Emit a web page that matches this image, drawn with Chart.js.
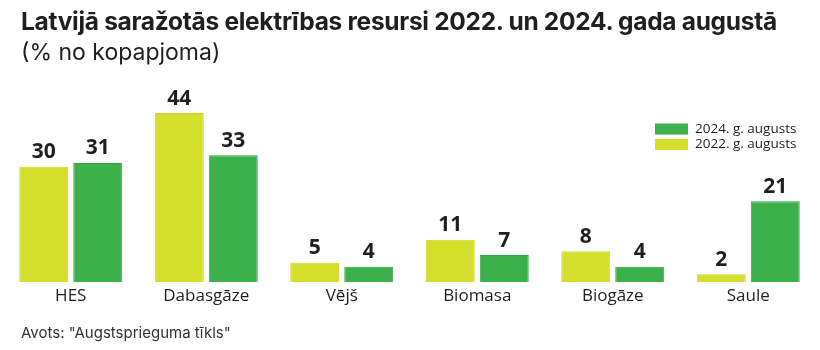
<!DOCTYPE html>
<html><head><meta charset="utf-8">
<script src="https://cdn.jsdelivr.net/npm/chart.js@4/dist/chart.umd.min.js"></script>
<style>
html,body{margin:0;padding:0;background:#fff;}
#wrap{position:relative;width:820px;height:350px;overflow:hidden;}
canvas{position:absolute;left:0;top:0;}
.t{position:absolute;color:#1f1f1f;white-space:nowrap;}
#title{left:21px;top:6px;font:700 24.5px Inter, sans-serif;letter-spacing:-0.3px;}
#sub{left:21px;top:38px;font:400 23px Inter, sans-serif;}
#src{left:21px;top:323px;font:400 15px Inter, sans-serif;color:#333;}
</style></head>
<body><div id="wrap">
<canvas id="c" width="820" height="350"></canvas>
<div class="t" id="title">Latvijā saražotās elektrības resursi 2022. un 2024. gada augustā</div>
<div class="t" id="sub">(% no kopapjoma)</div>
<div class="t" id="src">Avots: "Augstsprieguma tīkls"</div>
</div>
<script>
const categories = ["HES", "Dabasgāze", "Vējš", "Biomasa", "Biogāze", "Saule"];
const values2022 = [30, 44, 5, 11, 8, 2];
const values2024 = [31, 33, 4, 7, 4, 21];
const seriesNames = ["2022. g. augusts", "2024. g. augusts"];
const YELLOW = "#d5df2b", GREEN = "#3cb14b";

const labelPlugin = {
  id: "barLabels",
  afterDatasetsDraw(chart) {
    const ctx = chart.ctx;
    ctx.save();
    ctx.font = "700 21px 'Open Sans', sans-serif";
    ctx.fillStyle = "#1f1f1f";
    ctx.textAlign = "center";
    ctx.textBaseline = "bottom";
    chart.data.datasets.forEach((ds, i) => {
      chart.getDatasetMeta(i).data.forEach((bar, j) => {
        ctx.fillText(String(ds.data[j]), bar.x, bar.y - 4);
      });
    });
    ctx.restore();
  }
};

const legendPlugin = {
  id: "customLegend",
  afterDraw(chart) {
    const ctx = chart.ctx;
    ctx.save();
    const items = [[seriesNames[1], GREEN], [seriesNames[0], YELLOW]];
    ctx.font = "400 13.5px 'Open Sans', sans-serif";
    ctx.textBaseline = "middle";
    items.forEach((it, k) => {
      const y = 129 + k * 15.5;
      ctx.fillStyle = it[1];
      ctx.fillRect(655, y - 5.5, 33, 11);
      ctx.fillStyle = "#1f1f1f";
      ctx.fillText(it[0], 695, y);
    });
    ctx.restore();
  }
};

new Chart(document.getElementById("c"), {
  type: "bar",
  data: {
    labels: categories,
    datasets: [
      { label: seriesNames[0], data: values2022, backgroundColor: YELLOW, borderColor: "#cbd526", borderWidth: 1 },
      { label: seriesNames[1], data: values2024, backgroundColor: GREEN, borderColor: "#35a444", borderWidth: 1 }
    ]
  },
  options: {
    responsive: false,
    animation: false,
    layout: { padding: { left: 3, right: 4, top: 90, bottom: 44 } },
    datasets: { bar: { categoryPercentage: 0.797, barPercentage: 0.907 } },
    plugins: { legend: { display: false }, tooltip: { enabled: false } },
    scales: {
      x: {
        grid: { display: false, drawTicks: false },
        border: { display: false },
        ticks: { color: "#1f1f1f", font: { family: "'Open Sans', sans-serif", size: 17 }, padding: 4 },
        afterFit(s) { s.height = 24; }
      },
      y: { display: false, min: 0, max: 50 }
    }
  },
  plugins: [labelPlugin, legendPlugin]
});
</script>
</body></html>
